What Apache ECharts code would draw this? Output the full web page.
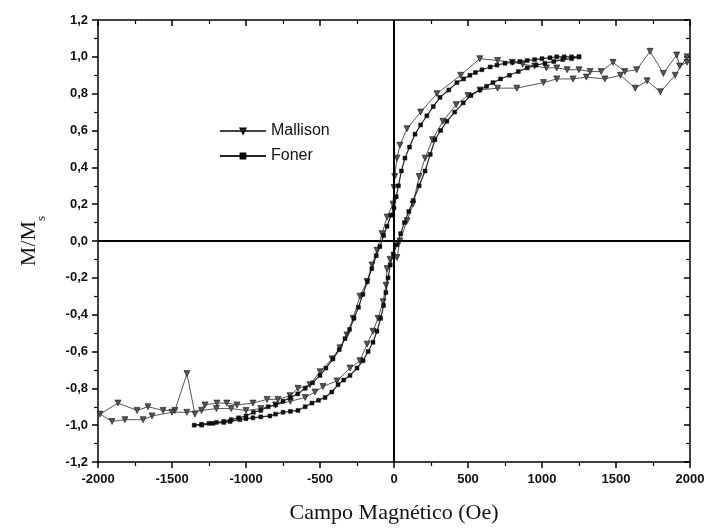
<!DOCTYPE html>
<html>
<head>
<meta charset="utf-8">
<script src="https://cdn.jsdelivr.net/npm/echarts@6/dist/echarts.min.js"></script>
<style>html,body{margin:0;padding:0;background:#fff}#c{width:709px;height:532px}</style>
</head>
<body>
<div id="c"></div>
<script>
// Mallison: field (Oe) and M/Ms, loop order (decreasing branch, then increasing branch)
const mallisonH = [1980,1930,1910,1820,1730,1640,1560,1480,1400,1325,1250,1170,1100,1030,950,870,800,700,580,450,290,180,88,40,20,5,0,-7,-47,-81,-115,-149,-182,-230,-277,-318,-365,-419,-500,-568,-649,-703,-784,-858,-953,-1061,-1130,-1196,-1277,-1345,-1399,-1480,-1560,-1662,-1736,-1865,-1986,
  -1905,-1818,-1695,-1635,-1500,-1400,-1300,-1200,-1100,-1000,-900,-800,-700,-600,-534,-480,-385,-297,-230,-182,-142,-108,-74,-54,-47,-27,20,40,88,128,170,210,260,330,420,500,581,700,830,1010,1100,1210,1300,1425,1530,1630,1710,1800,1900,1980];
const mallisonM = [0.97,0.95,1.01,0.91,1.03,0.93,0.92,0.97,0.92,0.92,0.93,0.93,0.94,0.94,0.95,0.96,0.97,0.98,0.99,0.90,0.80,0.70,0.61,0.52,0.45,0.35,0.29,0.20,0.13,0.04,-0.05,-0.13,-0.22,-0.30,-0.42,-0.51,-0.58,-0.64,-0.71,-0.78,-0.80,-0.84,-0.86,-0.86,-0.88,-0.89,-0.88,-0.88,-0.89,-0.94,-0.72,-0.92,-0.92,-0.90,-0.92,-0.88,-0.94,
  -0.98,-0.97,-0.97,-0.95,-0.93,-0.93,-0.92,-0.91,-0.91,-0.92,-0.91,-0.89,-0.87,-0.85,-0.82,-0.79,-0.76,-0.69,-0.65,-0.56,-0.49,-0.42,-0.33,-0.24,-0.15,-0.10,-0.09,0.00,0.11,0.20,0.35,0.45,0.55,0.65,0.74,0.79,0.82,0.83,0.83,0.86,0.88,0.88,0.89,0.88,0.90,0.83,0.87,0.81,0.90,1.00];

// Foner: field (Oe) and M/Ms, loop order
const fonerH = [1250,1200,1150,1100,1054,1000,950,900,850,800,750,696,650,594,550,513,470,425,370,311,265,222,180,142,105,74,50,30,15,0,-20,-47,-70,-95,-120,-150,-180,-210,-240,-270,-300,-331,-370,-412,-460,-500,-550,-600,-650,-700,-750,-800,-850,-900,-950,-1000,-1050,-1100,-1150,-1200,-1250,-1300,-1350,
  -1300,-1223,-1150,-1108,-1041,-1000,-953,-900,-838,-800,-750,-700,-649,-600,-554,-510,-466,-420,-378,-340,-297,-250,-209,-175,-142,-115,-90,-70,-55,-40,-25,-5,20,45,70,100,130,170,210,245,277,315,357,410,468,520,581,625,669,720,780,840,900,960,1020,1080,1140,1200,1250];
const fonerM = [1.0,1.0,1.0,1.0,0.995,0.99,0.985,0.98,0.975,0.97,0.965,0.955,0.945,0.93,0.915,0.90,0.88,0.86,0.82,0.78,0.73,0.68,0.63,0.58,0.51,0.45,0.38,0.30,0.24,0.18,0.14,0.08,0.03,-0.03,-0.08,-0.15,-0.22,-0.29,-0.36,-0.42,-0.48,-0.53,-0.59,-0.64,-0.69,-0.73,-0.77,-0.80,-0.83,-0.85,-0.87,-0.89,-0.90,-0.92,-0.93,-0.95,-0.96,-0.97,-0.98,-0.985,-0.99,-0.995,-1.0,
  -1.0,-0.99,-0.985,-0.98,-0.97,-0.965,-0.96,-0.955,-0.95,-0.94,-0.93,-0.925,-0.92,-0.90,-0.88,-0.865,-0.85,-0.82,-0.78,-0.755,-0.73,-0.69,-0.65,-0.60,-0.55,-0.49,-0.42,-0.35,-0.28,-0.20,-0.13,-0.07,-0.02,0.04,0.10,0.16,0.22,0.30,0.38,0.47,0.55,0.60,0.65,0.70,0.75,0.79,0.82,0.84,0.86,0.88,0.90,0.92,0.94,0.955,0.965,0.975,0.985,0.99,1.0];

const xMin = -2000, xMax = 2000, xStep = 500;
const yMin = -1.2, yMax = 1.2, yStep = 0.2;
const xTitle = 'Campo Magnético (Oe)';
const seriesNames = ['Mallison', 'Foner'];

const zip = (a, b) => a.map((v, i) => [v, b[i]]);
const fmtY = v => v.toFixed(1).replace('.', ',').replace('-0,0', '0,0');
const fmtX = v => String(Math.round(v));
const labelFont = {fontFamily: 'Liberation Sans, Arial, sans-serif', fontSize: 13, color: '#111', fontWeight: 'bold'};

const chart = echarts.init(document.getElementById('c'), null, {renderer: 'canvas'});
chart.setOption({
  animation: false,
  backgroundColor: '#fff',
  grid: {left: 98, right: 19, top: 20, bottom: 70},
  legend: {
    left: 214, top: 118, orient: 'vertical', itemGap: 9, itemWidth: 46, itemHeight: 6,
    textStyle: {fontFamily: 'Liberation Sans, Arial, sans-serif', fontSize: 16, color: '#111'},
    data: seriesNames
  },
  xAxis: [{
    type: 'value', min: xMin, max: xMax, interval: xStep, position: 'bottom',
    axisLine: {show: true, onZero: false, lineStyle: {color: '#000', width: 1.5}},
    axisTick: {show: true, inside: false, length: 6, lineStyle: {color: '#000', width: 1.5}},
    minorTick: {show: true, splitNumber: 2, length: 4, lineStyle: {color: '#000', width: 1.2}},
    splitLine: {show: false},
    axisLabel: Object.assign({margin: 11, formatter: fmtX}, labelFont),
    name: xTitle, nameLocation: 'middle', nameGap: 40,
    nameTextStyle: {fontFamily: 'Liberation Serif, Times New Roman, serif', fontSize: 22, color: '#111'}
  }, {
    type: 'value', min: xMin, max: xMax, interval: xStep, position: 'top',
    axisLine: {show: true, onZero: false, lineStyle: {color: '#000', width: 1.5}},
    axisTick: {show: true, inside: true, length: 6, lineStyle: {color: '#000', width: 1.5}},
    minorTick: {show: true, splitNumber: 2, length: 4, lineStyle: {color: '#000', width: 1.2}},
    splitLine: {show: false}, axisLabel: {show: false}
  }],
  yAxis: [{
    type: 'value', min: yMin, max: yMax, interval: yStep, position: 'left',
    axisLine: {show: true, onZero: false, lineStyle: {color: '#000', width: 1.5}},
    axisTick: {show: true, inside: false, length: 6, lineStyle: {color: '#000', width: 1.5}},
    minorTick: {show: true, splitNumber: 2, length: 4, lineStyle: {color: '#000', width: 1.2}},
    splitLine: {show: false},
    axisLabel: Object.assign({margin: 10, formatter: fmtY}, labelFont),
    name: '{a|M/M}{s|s}', nameLocation: 'middle', nameGap: 50, nameRotate: 90,
    nameTextStyle: {
      rich: {
        a: {fontFamily: 'Liberation Serif, Times New Roman, serif', fontSize: 22, color: '#111', lineHeight: 24, verticalAlign: 'top'},
        s: {fontFamily: 'Liberation Serif, Times New Roman, serif', fontSize: 13, color: '#111', lineHeight: 30, verticalAlign: 'bottom'}
      }
    }
  }, {
    type: 'value', min: yMin, max: yMax, interval: yStep, position: 'right',
    axisLine: {show: true, onZero: false, lineStyle: {color: '#000', width: 1.5}},
    axisTick: {show: true, inside: true, length: 6, lineStyle: {color: '#000', width: 1.5}},
    minorTick: {show: true, splitNumber: 2, length: 4, lineStyle: {color: '#000', width: 1.2}},
    splitLine: {show: false}, axisLabel: {show: false}
  }],
  series: [{
    name: seriesNames[0], type: 'line', data: zip(mallisonH, mallisonM),
    symbol: 'triangle', symbolRotate: 180, symbolSize: 6, showSymbol: true,
    lineStyle: {color: '#444', width: 0.9},
    itemStyle: {color: '#555', borderColor: '#111', borderWidth: 0.6},
    z: 3
  }, {
    name: seriesNames[1], type: 'line', data: zip(fonerH, fonerM),
    symbol: 'rect', symbolSize: 4, showSymbol: true,
    lineStyle: {color: '#222', width: 1.2},
    itemStyle: {color: '#111', borderColor: '#000', borderWidth: 0.4},
    z: 4,
    markLine: {
      silent: true, symbol: ['none', 'none'], label: {show: false},
      lineStyle: {color: '#000', width: 2, type: 'solid'},
      data: [{xAxis: 0}, {yAxis: 0}]
    }
  }]
});
</script>
</body>
</html>
